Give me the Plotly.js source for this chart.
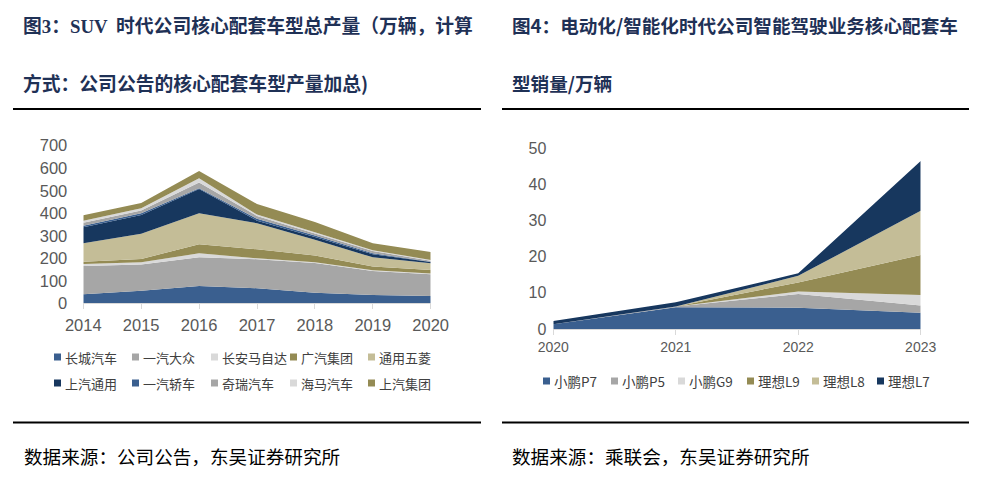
<!DOCTYPE html>
<html><head><meta charset="utf-8">
<script src="https://cdn.plot.ly/plotly-3.0.1.min.js"></script>
<style>html,body{margin:0;padding:0;background:#fff}#chart{width:987px;height:485px}</style>
</head><body><div id="chart"></div>
<script>
// ---------- Data: left chart (万辆) ----------
const years1 = [2014, 2015, 2016, 2017, 2018, 2019, 2020];
const names1 = ['长城汽车','一汽大众','长安马自达','广汽集团','通用五菱','上汽通用','一汽轿车','奇瑞汽车','海马汽车','上汽集团'];
const changcheng = [40, 56, 77, 67, 47, 37, 32];
const yiqiDazhong = [126, 116, 127, 129, 132, 107, 97];
const changanMazda = [9, 10, 18, 4, 3, 3, 3];
const guangqi = [10, 15, 40, 40, 30, 16, 16];
const tongyongWuling = [82, 112, 138, 116, 70, 41, 30];
const shangqiTongyong = [71, 83, 108, 11, 13, 14, 5];
const yiqiJiaoche = [7, 8, 3, 8, 6, 4, 2];
const qirui = [13, 12, 25, 13, 9, 10, 4];
const haima = [9, 10, 19, 6, 6, 4, 3];
const shangqiJituan = [24, 24, 33, 47, 45, 31, 36];
const series1 = [changcheng, yiqiDazhong, changanMazda, guangqi, tongyongWuling, shangqiTongyong, yiqiJiaoche, qirui, haima, shangqiJituan];
const yTicks1 = [0, 100, 200, 300, 400, 500, 600, 700];

// ---------- Data: right chart (万辆) ----------
const years2 = [2020, 2021, 2022, 2023];
const names2 = ['小鹏P7','小鹏P5','小鹏G9','理想L9','理想L8','理想L7'];
const xpengP7 = [1.3, 6.0, 5.9, 4.5];
const xpengP5 = [0, 0.2, 3.8, 2.0];
const xpengG9 = [0, 0, 0.7, 2.9];
const liL9 = [0, 0, 2.5, 11.1];
const liL8 = [0, 0, 1.8, 12.2];
const liL7 = [0.9, 1.2, 0.7, 13.8];
const series2 = [xpengP7, xpengP5, xpengG9, liL9, liL8, liL7];
const yTicks2 = [0, 10, 20, 30, 40, 50];

// ---------- Styles ----------
const C = {blue:'#3A5F8F', gray:'#A6A6A6', light:'#D9D9D9', olive:'#948B54', tan:'#C4BD97', navy:'#17375E'};
const colors1 = [C.blue, C.gray, C.light, C.olive, C.tan, C.navy, C.blue, C.gray, C.light, C.olive];
const colors2 = [C.blue, C.gray, C.light, C.olive, C.tan, C.navy];
const W = 987, H = 485;
const px = x => x / W, py = y => 1 - y / H;

const traces = [];
series1.forEach((vals, i) => traces.push({
  type:'scatter', x: years1, y: vals, name: names1[i], stackgroup:'left',
  mode:'none', fillcolor: colors1[i], line:{width:0}, xaxis:'x', yaxis:'y', hoverinfo:'skip'
}));
series2.forEach((vals, i) => traces.push({
  type:'scatter', x: years2, y: vals, name: names2[i], stackgroup:'right',
  mode:'none', fillcolor: colors2[i], line:{width:0}, xaxis:'x2', yaxis:'y2', hoverinfo:'skip'
}));

const tickFontL = {family:'Liberation Sans, Arial, sans-serif', size:16.5, color:'#595959'};
const tickFontR = {family:'Liberation Sans, Arial, sans-serif', size:14, color:'#595959'};
const tickFontRy = {family:'Liberation Sans, Arial, sans-serif', size:16, color:'#595959'};
const cjk = 'Noto Sans CJK SC, sans-serif';

const annotations = [];
const shapes = [];
function addText(x, y, text, font, anchor) {
  annotations.push({xref:'paper', yref:'paper', x: px(x), y: py(y), text, showarrow:false,
    xanchor: anchor || 'left', yanchor:'middle', font, borderpad:0});
}
const titleFontL = {family: cjk, size:18.8, color:'#1F3156', weight:700};
const titleFontR = {family: cjk, size:18.6, color:'#1F3156', weight:700};
const serif = t => '<span style="font-family:Liberation Serif, serif">' + t + '</span>';
addText(22, 24, '图' + serif('3') + '：' + serif('SUV') + '  时代公司核心配套车型总产量（万辆，计算', titleFontL);
addText(22, 82, '方式：公司公告的核心配套车型产量加总)', titleFontL);
addText(511, 24, '图4：电动化/智能化时代公司智能驾驶业务核心配套车', titleFontR);
addText(511, 82, '型销量/万辆', titleFontR);
const srcFont = {family: cjk, size:18.6, color:'#000000'};
addText(23, 455, '数据来源：公司公告，东吴证券研究所', srcFont);
addText(511, 455, '数据来源：乘联会，东吴证券研究所', srcFont);

[[13,481,109],[502,969,109],[13,481,422.5],[502,969,422.5]].forEach(r => shapes.push({
  type:'line', xref:'paper', yref:'paper', x0:px(r[0]), x1:px(r[1]), y0:py(r[2]), y1:py(r[2]),
  line:{color:'#000000', width:2}
}));

// legends (drawn as annotations + squares)
const legFont = {family: cjk, size:13, color:'#404040'};
const legX1 = [64, 142, 221, 300, 378];
const legY1 = [357, 383];
names1.forEach((n, i) => {
  const tx = legX1[i % 5], ty = legY1[Math.floor(i / 5)];
  addText(tx, ty, n, legFont);
  shapes.push({type:'rect', xref:'paper', yref:'paper', x0:px(tx-10), x1:px(tx-3), y0:py(ty+3.5), y1:py(ty-3.5),
    fillcolor: colors1[i], line:{width:0}});
});
const legX2 = [553, 621, 688, 757, 822, 887];
names2.forEach((n, i) => {
  const tx = legX2[i], ty = 381;
  addText(tx, ty, n, {family: cjk, size:13.5, color:'#404040'});
  shapes.push({type:'rect', xref:'paper', yref:'paper', x0:px(tx-10), x1:px(tx-3), y0:py(ty+3.5), y1:py(ty-3.5),
    fillcolor: colors2[i], line:{width:0}});
});

const layout = {
  width: W, height: H, margin:{l:0, r:0, t:0, b:0}, showlegend:false,
  paper_bgcolor:'#ffffff', plot_bgcolor:'rgba(0,0,0,0)',
  xaxis:{domain:[px(83.3), px(430.7)], range:[2014, 2020], tickvals: years1, ticktext: years1.map(String),
    showline:true, linecolor:'#D9D9D9', linewidth:1, ticks:'outside', ticklen:5, tickcolor:'#D9D9D9',
    showgrid:false, zeroline:false, tickfont: tickFontL, fixedrange:true, anchor:'y', ticklabelstandoff:2},
  yaxis:{domain:[py(303.3), py(145.7)], range:[0, 700], tickvals: yTicks1, showgrid:false, showline:false,
    zeroline:false, ticks:'', tickfont: tickFontL, ticklabelstandoff:15, fixedrange:true, anchor:'x'},
  xaxis2:{domain:[px(553.3), px(920.7)], range:[2020, 2023], tickvals: years2, ticktext: years2.map(String),
    showline:true, linecolor:'#D9D9D9', linewidth:1, ticks:'outside', ticklen:5, tickcolor:'#D9D9D9',
    showgrid:false, zeroline:false, tickfont: tickFontR, fixedrange:true, anchor:'y2'},
  yaxis2:{domain:[py(329), py(148.3)], range:[0, 50], tickvals: yTicks2, showgrid:false, showline:false,
    zeroline:false, ticks:'', tickfont: tickFontRy, ticklabelstandoff:6, fixedrange:true, anchor:'x2'},
  annotations, shapes
};
Plotly.newPlot('chart', traces, layout, {displayModeBar:false, staticPlot:true});
</script></body></html>
